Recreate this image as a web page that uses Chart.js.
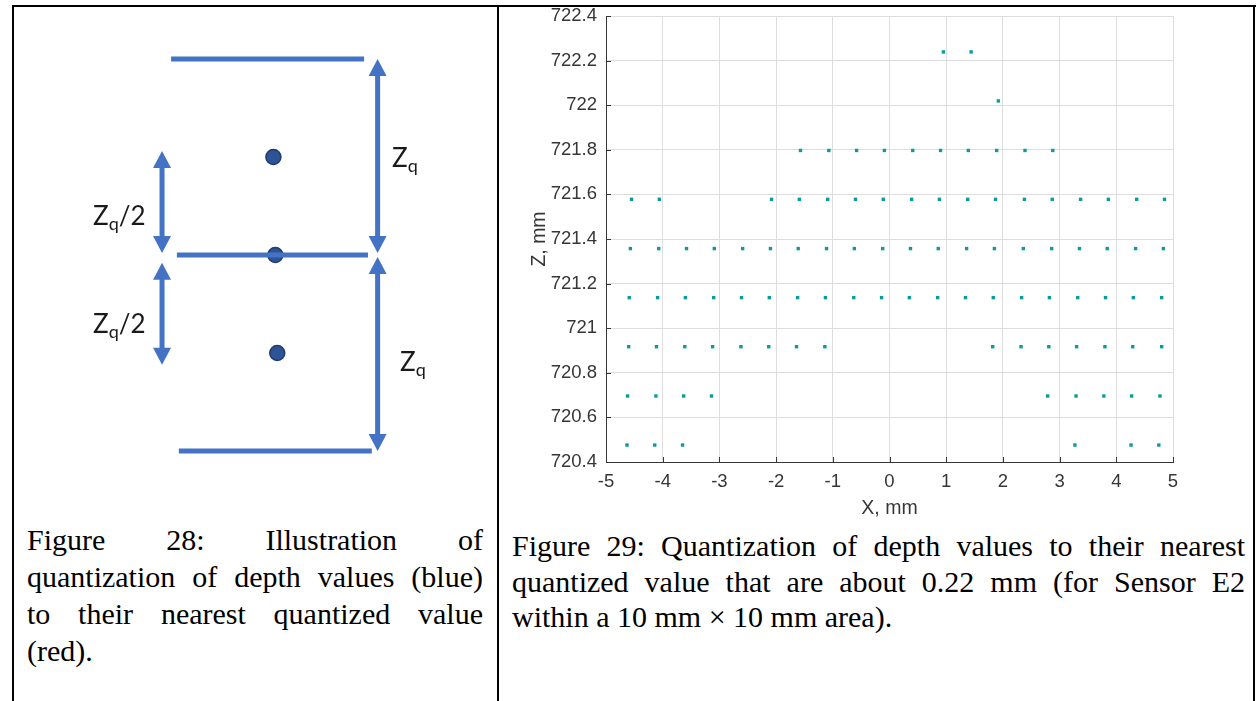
<!DOCTYPE html>
<html>
<head>
<meta charset="utf-8">
<script src="https://cdn.jsdelivr.net/npm/chart.js@4.4.1/dist/chart.umd.min.js"></script>
<style>
  html, body { margin: 0; padding: 0; background: #fff; }
  #page { position: relative; width: 1256px; height: 701px; overflow: hidden; background: #fff; }
  .rule { position: absolute; background: #000; }
  canvas { position: absolute; }
  .zl { position: absolute; font-family: Lato, "Open Sans", sans-serif; font-size: 26px; line-height: 25px; color: #1a1a1a; white-space: nowrap; }
  .zl sub { font-size: 18px; vertical-align: -5px; line-height: 0; }
  .cap { position: absolute; font-family: "Liberation Serif", "Times New Roman", serif; font-size: 30px; color: #000; }
  .cap .j { text-align: justify; text-align-last: justify; }
</style>
</head>
<body>
<div id="page">
  <div class="rule" style="left:12px; top:5px; width:1244px; height:2px;"></div>
  <div class="rule" style="left:12px; top:5px; width:2px; height:696px;"></div>
  <div class="rule" style="left:497px; top:5px; width:2px; height:696px;"></div>
  <div class="rule" style="left:1253px; top:5px; width:2px; height:696px;"></div>

  <canvas id="sketch" style="left:14px; top:8px;" width="480" height="490"></canvas>
  <div class="zl" style="left:392px; top:145px;">Z<sub>q</sub></div>
  <div class="zl" style="left:93px; top:203px;">Z<sub>q</sub>/2</div>
  <div class="zl" style="left:93px; top:311px;">Z<sub>q</sub>/2</div>
  <div class="zl" style="left:400px; top:349px;">Z<sub>q</sub></div>

  <canvas id="scatter" style="left:500px; top:0px;" width="740" height="522"></canvas>

  <div class="cap" style="left:27px; top:521px; width:456px; line-height:37px;">
    <div class="j">Figure 28: Illustration of</div>
    <div class="j">quantization of depth values (blue)</div>
    <div class="j">to their nearest quantized value</div>
    <div>(red).</div>
  </div>
  <div class="cap" style="left:512px; top:528px; width:733px; line-height:35.5px;">
    <div class="j">Figure 29: Quantization of depth values to their nearest</div>
    <div class="j">quantized value that are about 0.22 mm (for Sensor E2</div>
    <div>within a 10 mm × 10 mm area).</div>
  </div>
</div>

<script>
// --- Figure 28: quantization sketch (units of Zq) ---
const levelZ = [1, 0, -1];
const levelStart = [-0.02, 0.01, 0.02];
const levelEnd = [0.98, 1.0, 1.02];
const sampleZ = [0.5, 0, -0.5];          // blue depth values
const sampleX = [0.51, 0.52, 0.53];
const quantZ = [0];                       // red quantized value
const quantX = [0.52];
const fullSpans = [[1, 0.01], [-0.01, -1]];     // Zq arrows
const halfSpans = [[0.53, 0.01], [-0.04, -0.56]]; // Zq/2 arrows
const fullArrowX = 1.05;
const halfArrowX = -0.067;

// --- Figure 29: quantized depth samples ---
const zLevels = [722.239, 722.019, 721.797, 721.578, 721.357, 721.137, 720.917, 720.696, 720.476];
const xRows = [
  [0.95, 1.44],
  [1.92],
  [-1.57, -1.07, -0.58, -0.09, 0.41, 0.90, 1.39, 1.89, 2.39, 2.88],
  [-4.55, -4.06, -2.08, -1.59, -1.09, -0.60, -0.11, 0.39, 0.88, 1.38, 1.87, 2.38, 2.87, 3.37, 3.86, 4.36, 4.85],
  [-4.57, -4.07, -3.58, -3.09, -2.59, -2.10, -1.61, -1.11, -0.62, -0.12, 0.37, 0.86, 1.36, 1.85, 2.36, 2.86, 3.35, 3.84, 4.34, 4.83],
  [-4.59, -4.09, -3.60, -3.10, -2.61, -2.12, -1.62, -1.13, -0.63, -0.14, 0.35, 0.85, 1.34, 1.83, 2.33, 2.82, 3.32, 3.81, 4.30, 4.80],
  [-4.60, -4.11, -3.61, -3.12, -2.62, -2.13, -1.64, -1.14, 1.82, 2.32, 2.81, 3.30, 3.80, 4.29, 4.80],
  [-4.62, -4.12, -3.63, -3.14, 2.79, 3.29, 3.78, 4.27, 4.77],
  [-4.63, -4.14, -3.65, 3.27, 4.26, 4.75]
];
const xTickValues = [-5, -4, -3, -2, -1, 0, 1, 2, 3, 4, 5];
const xTickLabels = ['-5', '-4', '-3', '-2', '-1', '0', '1', '2', '3', '4', '5'];
const yTickValues = [720.4, 720.6, 720.8, 721, 721.2, 721.4, 721.6, 721.8, 722, 722.2, 722.4];
const yTickLabels = ['720.4', '720.6', '720.8', '721', '721.2', '721.4', '721.6', '721.8', '722', '722.2', '722.4'];

const BLUE = '#4472C4';
const INK = '#363636';

// double headed arrows, drawn from the dataset's own point positions
const arrowPlugin = {
  id: 'arrows',
  afterDatasetsDraw(chart) {
    const ctx = chart.ctx;
    chart.data.datasets.forEach((ds, i) => {
      if (!ds.arrow) return;
      const pts = chart.getDatasetMeta(i).data;
      const a = {x: pts[0].x, y: pts[0].y}, b = {x: pts[1].x, y: pts[1].y};
      const len = Math.hypot(b.x - a.x, b.y - a.y);
      const ux = (b.x - a.x) / len, uy = (b.y - a.y) / len;
      const L = 17, W = 18;
      ctx.save();
      ctx.strokeStyle = BLUE; ctx.fillStyle = BLUE; ctx.lineWidth = 5;
      ctx.beginPath();
      ctx.moveTo(a.x + ux * (L - 1), a.y + uy * (L - 1));
      ctx.lineTo(b.x - ux * (L - 1), b.y - uy * (L - 1));
      ctx.stroke();
      [[a, -1], [b, 1]].forEach(([p, s]) => {
        const bx = p.x - s * ux * L, by = p.y - s * uy * L;
        ctx.beginPath();
        ctx.moveTo(p.x, p.y);
        ctx.lineTo(bx - uy * W / 2, by + ux * W / 2);
        ctx.lineTo(bx + uy * W / 2, by - ux * W / 2);
        ctx.closePath();
        ctx.fill();
      });
      ctx.restore();
    });
  }
};

const sketchSets = [];
levelZ.forEach((z, i) => {
  sketchSets.push({
    data: [{x: levelStart[i], y: z}, {x: levelEnd[i], y: z}],
    showLine: true, borderColor: BLUE, borderWidth: 5, borderCapStyle: 'butt', pointRadius: 0
  });
});
fullSpans.forEach(s => sketchSets.push({
  arrow: true, showLine: false, pointRadius: 0,
  data: [{x: fullArrowX, y: s[0]}, {x: fullArrowX, y: s[1]}]
}));
halfSpans.forEach(s => sketchSets.push({
  arrow: true, showLine: false, pointRadius: 0,
  data: [{x: halfArrowX, y: s[0]}, {x: halfArrowX, y: s[1]}]
}));
sketchSets.push({
  data: sampleZ.map((z, i) => ({x: sampleX[i], y: z})),
  pointStyle: 'circle', pointRadius: 7.5, backgroundColor: '#2E5496', borderColor: '#1F3B70', borderWidth: 1.5
});
sketchSets.push({
  data: quantZ.map((z, i) => ({x: quantX[i], y: z})),
  pointStyle: 'circle', pointRadius: 2, backgroundColor: '#ff0000', borderWidth: 0
});

new Chart(document.getElementById('sketch'), {
  type: 'scatter',
  data: { datasets: sketchSets },
  options: {
    responsive: false,
    animation: false,
    layout: { padding: 0, autoPadding: false },
    plugins: { legend: { display: false }, tooltip: { enabled: false } },
    scales: {
      x: { display: false, min: -0.834, max: 1.653 },
      y: { display: false, min: -1.24, max: 1.26 }
    }
  },
  plugins: [arrowPlugin]
});

// inward tick marks like the original axes
const innerTicks = {
  id: 'innerTicks',
  afterDraw(chart) {
    const {ctx, chartArea: a, scales: {x, y}} = chart;
    ctx.save();
    ctx.strokeStyle = INK; ctx.lineWidth = 1;
    ctx.beginPath();
    x.ticks.forEach(t => {
      const px = Math.round(x.getPixelForValue(t.value)) + 0.5;
      ctx.moveTo(px, a.bottom); ctx.lineTo(px, a.bottom - 5);
    });
    y.ticks.forEach(t => {
      const py = Math.round(y.getPixelForValue(t.value)) + 0.5;
      ctx.moveTo(a.left, py); ctx.lineTo(a.left + 5, py);
    });
    ctx.stroke();
    ctx.restore();
  }
};

const points = [];
zLevels.forEach((z, r) => xRows[r].forEach(x => points.push({x: x, y: z})));

const tickFont = { family: '"Liberation Sans", Arial, sans-serif', size: 18.5 };
const titleFont = { family: '"Liberation Sans", Arial, sans-serif', size: 19.5 };

new Chart(document.getElementById('scatter'), {
  type: 'scatter',
  data: {
    datasets: [{
      data: points,
      pointStyle: 'rect',
      pointRadius: 2.4,
      backgroundColor: '#0c9b9b',
      borderWidth: 0
    }]
  },
  options: {
    responsive: false,
    animation: false,
    layout: { padding: { left: 0, top: 16, right: 67, bottom: 0 }, autoPadding: false },
    plugins: { legend: { display: false }, tooltip: { enabled: false } },
    scales: {
      x: {
        min: -5, max: 5,
        afterBuildTicks: s => { s.ticks = xTickValues.map(v => ({ value: v })); },
        afterFit: s => { s.height = 60; s.paddingLeft = 0; s.paddingRight = 0; },
        ticks: { callback: (v, i) => xTickLabels[i], color: INK, font: tickFont, padding: 9, maxRotation: 0 },
        grid: { color: '#dedede', drawTicks: false },
        border: { display: true, color: INK, width: 1 },
        title: { display: true, text: 'X, mm', color: INK, font: titleFont, padding: { top: 0, bottom: 2 } }
      },
      y: {
        min: 720.4, max: 722.4,
        afterBuildTicks: s => { s.ticks = yTickValues.map(v => ({ value: v })); },
        afterFit: s => { s.width = 106; s.paddingTop = 0; s.paddingBottom = 0; },
        ticks: { callback: (v, i) => yTickLabels[i], color: INK, font: tickFont, padding: 9 },
        grid: { color: '#dedede', drawTicks: false },
        border: { display: true, color: INK, width: 1 },
        title: { display: true, text: 'Z, mm', color: INK, font: titleFont, padding: { top: 28, bottom: 0 } }
      }
    }
  },
  plugins: [innerTicks]
});
</script>
</body>
</html>
